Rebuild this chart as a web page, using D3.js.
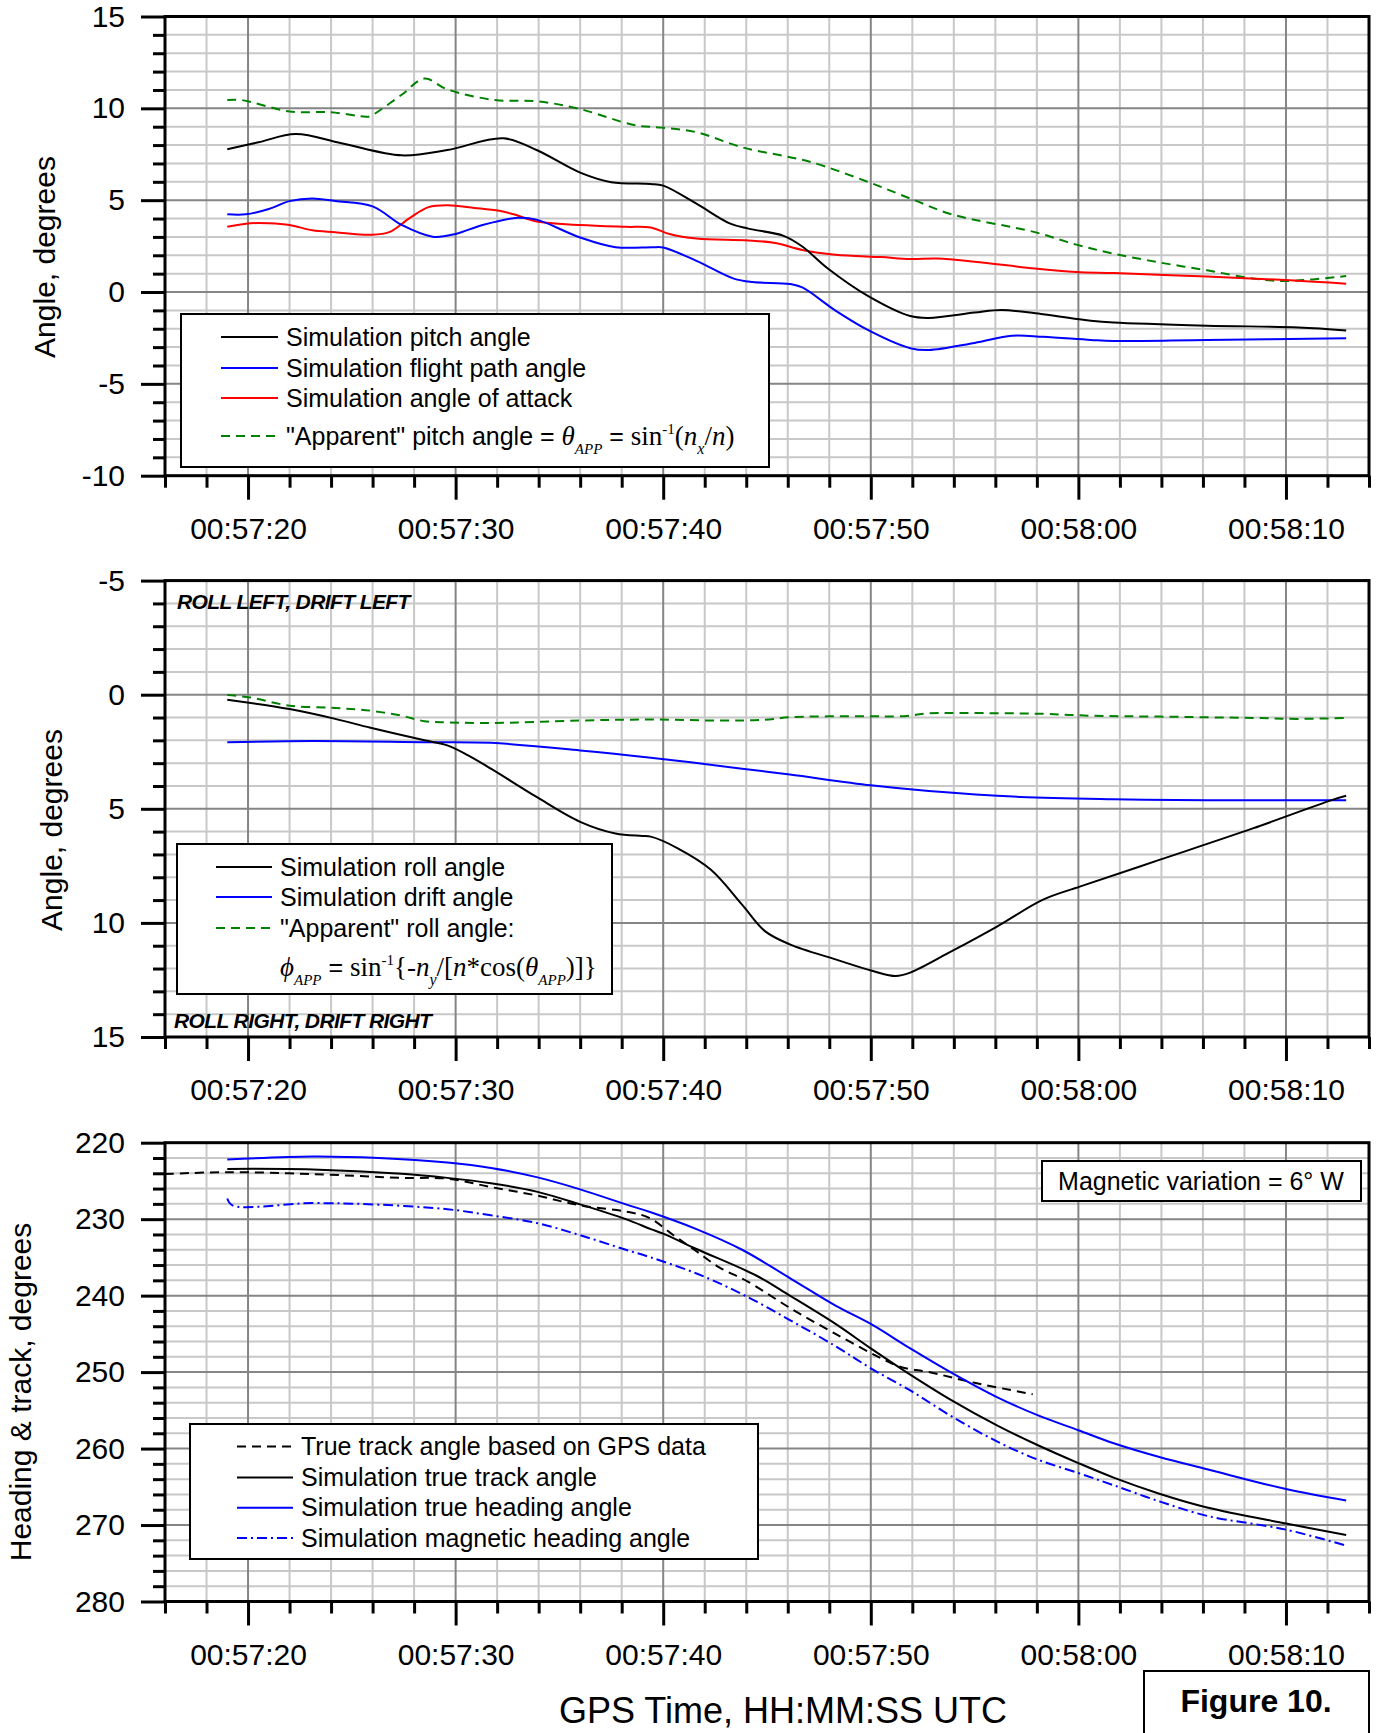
<!DOCTYPE html>
<html>
<head>
<meta charset="utf-8">
<script src="https://cdn.jsdelivr.net/npm/d3@7"></script>
<style>
  body { margin: 0; background: #fff; }
  svg text { font-family: "Liberation Sans", Arial, sans-serif; fill: #000; }
  .serif { font-family: "Liberation Serif", "Times New Roman", serif; }
</style>
</head>
<body>
<div id="figure"></div>
<script>
// time is seconds after 00:57:00 UTC
// --- panel 1: pitch ---
const pitchT = [19.0, 20.5, 22.3, 24.5, 27.4, 29.6, 32.3, 33.9, 36.0, 37.5, 39.4, 40.0, 41.6, 43.2, 44.1, 45.8, 46.7, 47.9, 49.9, 51.9, 52.8, 55.0, 56.3, 58.3, 60.6, 61.7, 66.2, 70.6, 72.9]
const pitchV = [7.77, 8.15, 8.60, 8.10, 7.44, 7.73, 8.37, 7.73, 6.50, 5.98, 5.88, 5.79, 4.81, 3.74, 3.45, 3.06, 2.48, 1.31, -0.24, -1.31, -1.41, -1.12, -0.98, -1.21, -1.56, -1.66, -1.83, -1.93, -2.09]
const fpaT = [19.0, 19.9, 21.0, 22.0, 23.1, 24.2, 26.0, 27.4, 28.9, 30.0, 31.3, 33.0, 33.9, 36.0, 37.7, 39.5, 40.0, 41.6, 43.4, 44.3, 46.1, 46.7, 48.3, 49.9, 51.9, 52.8, 55.0, 56.8, 58.3, 60.6, 61.7, 66.2, 72.9]
const fpaV = [4.23, 4.23, 4.52, 4.95, 5.09, 4.95, 4.66, 3.65, 3.01, 3.16, 3.65, 4.04, 3.94, 2.97, 2.44, 2.44, 2.42, 1.70, 0.73, 0.54, 0.44, 0.25, -1.01, -2.09, -3.06, -3.16, -2.77, -2.38, -2.44, -2.61, -2.67, -2.61, -2.52]
const aoaT = [19.0, 20.1, 21.0, 22.0, 23.1, 24.2, 25.9, 26.8, 27.8, 28.7, 29.6, 30.9, 32.1, 32.8, 33.9, 36.0, 38.2, 39.4, 40.3, 41.6, 44.1, 45.4, 46.7, 48.3, 50.5, 51.9, 53.2, 55.0, 57.9, 59.9, 61.7, 66.2, 70.2, 72.9]
const aoaV = [3.55, 3.74, 3.74, 3.65, 3.36, 3.26, 3.12, 3.26, 4.04, 4.62, 4.72, 4.58, 4.42, 4.23, 3.84, 3.65, 3.55, 3.51, 3.16, 2.91, 2.81, 2.67, 2.29, 2.03, 1.90, 1.80, 1.82, 1.65, 1.28, 1.09, 1.03, 0.84, 0.64, 0.45]
const appPitchT = [19.0, 19.7, 22.0, 24.0, 25.7, 25.9, 27.4, 28.5, 29.6, 31.9, 33.9, 36.0, 38.6, 39.9, 41.6, 43.8, 46.1, 47.2, 49.9, 52.1, 53.9, 57.9, 59.9, 61.7, 63.9, 66.2, 68.4, 70.0, 72.9]
const appPitchV = [10.45, 10.45, 9.83, 9.79, 9.54, 9.58, 10.74, 11.62, 11.03, 10.45, 10.39, 9.96, 9.09, 8.95, 8.70, 7.88, 7.34, 7.05, 5.98, 5.00, 4.23, 3.26, 2.58, 2.09, 1.61, 1.18, 0.74, 0.60, 0.87]

// --- panel 2: roll / drift ---
const rollT = [19.0, 22.0, 24.2, 25.9, 28.5, 29.6, 30.6, 31.7, 33.9, 36.0, 37.7, 39.0, 39.4, 40.7, 42.3, 43.8, 44.9, 46.1, 48.3, 50.1, 51.2, 51.9, 53.9, 56.1, 58.3, 60.1, 63.9, 68.4, 72.2, 72.9]
const rollV = [0.22, 0.63, 1.06, 1.45, 2.00, 2.22, 2.66, 3.24, 4.48, 5.57, 6.08, 6.19, 6.22, 6.73, 7.67, 9.20, 10.36, 10.94, 11.60, 12.11, 12.33, 12.18, 11.24, 10.15, 8.98, 8.40, 7.24, 5.86, 4.62, 4.43]
const driftT = [19.0, 23.1, 28.5, 31.7, 36.0, 39.4, 43.8, 46.1, 50.0, 52.8, 57.2, 61.7, 66.2, 72.9]
const driftV = [2.08, 2.03, 2.08, 2.11, 2.44, 2.76, 3.24, 3.50, 3.97, 4.22, 4.48, 4.58, 4.62, 4.62]
const appRollT = [19.0, 20.1, 22.0, 24.2, 25.9, 27.4, 28.5, 29.6, 31.7, 36.0, 39.4, 42.7, 44.9, 46.1, 49.4, 51.6, 52.8, 53.9, 58.3, 60.6, 63.9, 68.4, 70.6, 72.9]
const appRollV = [0.01, 0.12, 0.48, 0.58, 0.70, 0.92, 1.16, 1.21, 1.24, 1.13, 1.09, 1.13, 1.10, 0.99, 0.94, 0.94, 0.81, 0.80, 0.84, 0.92, 0.96, 1.02, 1.06, 1.02]

// --- panel 3: heading & track ---
const gpsTrackT = [16.0, 19.0, 23.1, 27.4, 29.6, 31.7, 33.9, 36.0, 38.2, 39.3, 40.5, 41.6, 42.7, 44.1, 46.1, 48.3, 50.5, 51.4, 52.8, 55.0, 57.8]
const gpsTrackV = [224.1, 223.85, 224.1, 224.6, 224.7, 225.8, 226.9, 228.2, 229.0, 229.8, 232.1, 234.2, 236.3, 238.2, 241.6, 245.0, 248.2, 249.3, 250.0, 251.4, 252.9]
const trackT = [19.0, 23.1, 27.4, 29.6, 31.7, 33.9, 36.0, 38.2, 39.4, 40.0, 41.6, 44.5, 46.1, 48.3, 50.0, 51.6, 53.9, 56.1, 58.0, 60.0, 61.7, 63.9, 66.2, 70.0, 72.9]
const trackV = [223.43, 223.5, 224.06, 224.6, 225.3, 226.4, 228.07, 230.0, 231.3, 231.9, 233.9, 237.4, 240.0, 243.7, 246.9, 249.8, 253.7, 257.0, 259.5, 261.9, 263.8, 265.9, 267.7, 269.8, 271.3]
const headT = [19.0, 23.1, 26.3, 29.6, 31.7, 33.9, 36.0, 38.2, 39.4, 41.6, 43.8, 46.1, 48.3, 50.0, 51.9, 53.9, 56.1, 58.0, 60.0, 61.7, 63.9, 66.2, 70.0, 72.9]
const headV = [222.2, 221.8, 222.0, 222.6, 223.3, 224.5, 226.1, 228.07, 229.1, 231.3, 234.0, 237.7, 241.3, 243.7, 246.9, 250.1, 253.3, 255.6, 257.6, 259.3, 261.1, 262.7, 265.3, 266.8]
const magHeadT = [19.0, 19.25, 23.1, 26.3, 29.6, 31.7, 33.9, 36.0, 38.2, 39.4, 41.6, 43.8, 46.1, 48.3, 50.0, 51.9, 53.9, 56.1, 58.0, 60.0, 61.7, 63.9, 66.2, 70.0, 72.9]
const magHeadV = [227.3, 228.2, 227.9, 228.1, 228.7, 229.5, 230.5, 232.1, 234.0, 235.0, 237.1, 239.8, 243.2, 246.6, 249.5, 252.4, 255.8, 259.1, 261.4, 263.2, 264.8, 266.9, 268.8, 270.6, 272.7]

const timeMajorTicks = [20, 30, 40, 50, 60, 70]

const svg = d3.select("#figure").append("svg")
    .attr("width", 1377)
    .attr("height", 1733)

const x = d3.scaleLinear().domain([16, 74]).range([165, 1369])

function fmtTime(s) {
    const m = 57 + Math.floor(s / 60)
    const ss = s % 60
    return "00:" + String(m).padStart(2, "0") + ":" + String(ss).padStart(2, "0")
}
// plain hyphen for negative labels, like the original
function fmtNum(d) { return String(Math.round(d)) }

function zip(ts, vs) { return ts.map((t, i) => ({ t: t, v: vs[i] })) }

// draws one panel (grid, series, frame, ticks) and returns its y scale
function drawPanel(p) {
    const y = d3.scaleLinear().domain(p.yDomain).range([p.top, p.bottom])
    const g = svg.append("g")
    const lo = Math.min(p.yDomain[0], p.yDomain[1]), hi = Math.max(p.yDomain[0], p.yDomain[1])
    const yMinor = d3.range(lo, hi + 0.001, p.yMinorStep)
    const yMajor = d3.range(lo, hi + 0.001, p.yMajorStep)
    const xMinor = d3.range(16, 74.001, 2)

    // minor grid
    g.selectAll(".vgm").data(xMinor.filter(d => d % 10 != 0)).join("line")
        .attr("x1", d => x(d)).attr("x2", d => x(d)).attr("y1", p.top).attr("y2", p.bottom)
        .attr("stroke", "#c8c8c8").attr("stroke-width", 2)
    g.selectAll(".hgm").data(yMinor.filter(d => !yMajor.includes(d))).join("line")
        .attr("x1", x.range()[0]).attr("x2", x.range()[1]).attr("y1", d => y(d)).attr("y2", d => y(d))
        .attr("stroke", "#c8c8c8").attr("stroke-width", 2)
    // major grid
    g.selectAll(".vgM").data(timeMajorTicks).join("line")
        .attr("x1", d => x(d)).attr("x2", d => x(d)).attr("y1", p.top).attr("y2", p.bottom)
        .attr("stroke", "#858585").attr("stroke-width", 2)
    g.selectAll(".hgM").data(yMajor).join("line")
        .attr("x1", x.range()[0]).attr("x2", x.range()[1]).attr("y1", d => y(d)).attr("y2", d => y(d))
        .attr("stroke", "#858585").attr("stroke-width", 2)

    // series
    const line = d3.line().curve(d3.curveCatmullRom.alpha(0.5))
        .x(d => x(d.t)).y(d => y(d.v))
    for (let s of p.series) {
        g.append("path")
            .datum(zip(s.t, s.v))
            .attr("fill", "none")
            .attr("stroke", s.color)
            .attr("stroke-width", 2)
            .attr("stroke-dasharray", s.dash || null)
            .attr("d", line)
    }

    // frame
    g.append("rect")
        .attr("x", x.range()[0]).attr("y", p.top)
        .attr("width", x.range()[1] - x.range()[0]).attr("height", p.bottom - p.top)
        .attr("fill", "none").attr("stroke", "#000").attr("stroke-width", 3)

    // x axis: minor then major ticks
    const xAxisMinor = g.append("g").attr("transform", `translate(0,${p.bottom})`)
        .call(d3.axisBottom(x).tickValues(xMinor.filter(d => d % 10 != 0)).tickSize(12).tickFormat(""))
    const xAxisMajor = g.append("g").attr("transform", `translate(0,${p.bottom})`)
        .call(d3.axisBottom(x).tickValues(timeMajorTicks).tickSize(24).tickPadding(18).tickFormat(fmtTime))
    // y axis
    const yAxisMinor = g.append("g").attr("transform", `translate(${x.range()[0]},0)`)
        .call(d3.axisLeft(y).tickValues(yMinor.filter(d => !yMajor.includes(d))).tickSize(12).tickFormat(""))
    const yAxisMajor = g.append("g").attr("transform", `translate(${x.range()[0]},0)`)
        .call(d3.axisLeft(y).tickValues(yMajor).tickSize(24).tickPadding(16).tickFormat(fmtNum))
    for (let a of [xAxisMinor, xAxisMajor, yAxisMinor, yAxisMajor]) {
        a.select(".domain").remove()
        a.selectAll(".tick line").attr("stroke", "#000").attr("stroke-width", 3)
        a.selectAll("text").attr("font-size", 30).attr("font-family", "Liberation Sans, Arial, sans-serif").attr("fill", "#000")
    }

    // y title
    svg.append("text")
        .attr("transform", `translate(${p.titleX},${p.titleY}) rotate(-90)`)
        .attr("text-anchor", "middle")
        .attr("dominant-baseline", "central")
        .attr("font-size", 30)
        .text(p.yTitle)
    return y
}

function drawLegend(box, rows) {
    svg.append("rect")
        .attr("x", box.x0).attr("y", box.y0)
        .attr("width", box.x1 - box.x0).attr("height", box.y1 - box.y0)
        .attr("fill", "#fff").attr("stroke", "#000").attr("stroke-width", 2)
    const items = []
    for (let r of rows) {
        if (r.color) {
            svg.append("line")
                .attr("x1", box.s0).attr("x2", box.s1).attr("y1", r.y).attr("y2", r.y)
                .attr("stroke", r.color).attr("stroke-width", 2)
                .attr("stroke-dasharray", r.dash || null)
        }
        const t = svg.append("text")
            .attr("x", box.tx).attr("y", r.y).attr("dy", "0.35em")
            .attr("font-size", 25)
        if (r.label) t.text(r.label)
        items.push(t)
    }
    return items
}

// ---------------- panel 1 ----------------
drawPanel({
    top: 16.5, bottom: 475.7, yDomain: [15, -10], yMajorStep: 5, yMinorStep: 1,
    yTitle: "Angle,  degrees", titleX: 44, titleY: 257,
    series: [
        { t: appPitchT, v: appPitchV, color: "#008000", dash: "9,6" },
        { t: aoaT, v: aoaV, color: "#ff0000" },
        { t: fpaT, v: fpaV, color: "#0000ff" },
        { t: pitchT, v: pitchV, color: "#000" }
    ]
})
const leg1 = drawLegend({ x0: 181, y0: 314, x1: 769, y1: 467, s0: 221, s1: 278, tx: 286 }, [
    { y: 337, color: "#000", label: "Simulation pitch angle" },
    { y: 368, color: "#0000ff", label: "Simulation flight path angle" },
    { y: 398, color: "#ff0000", label: "Simulation angle of attack" },
    { y: 436, color: "#008000", dash: "9,6" }
])
{
    const t = leg1[3]
    t.append("tspan").text("\"Apparent\" pitch angle = ")
    t.append("tspan").attr("class", "serif").attr("font-style", "italic").attr("font-size", 27).text("θ")
    t.append("tspan").attr("class", "serif").attr("font-style", "italic").attr("font-size", 15).attr("dy", 9).text("APP")
    t.append("tspan").attr("dy", -9).text(" = ")
    t.append("tspan").attr("class", "serif").attr("font-size", 27).text("sin")
    t.append("tspan").attr("class", "serif").attr("font-size", 15).attr("dy", -11).text("-1")
    t.append("tspan").attr("class", "serif").attr("font-size", 27).attr("dy", 11).text("(")
    t.append("tspan").attr("class", "serif").attr("font-style", "italic").attr("font-size", 27).text("n")
    t.append("tspan").attr("class", "serif").attr("font-style", "italic").attr("font-size", 16).attr("dy", 9).text("x")
    t.append("tspan").attr("class", "serif").attr("font-size", 27).attr("dy", -9).text("/")
    t.append("tspan").attr("class", "serif").attr("font-style", "italic").attr("font-size", 27).text("n")
    t.append("tspan").attr("class", "serif").attr("font-size", 27).text(")")
}

// ---------------- panel 2 ----------------
drawPanel({
    top: 580.6, bottom: 1037, yDomain: [-5, 15], yMajorStep: 5, yMinorStep: 1,
    yTitle: "Angle,  degrees", titleX: 51, titleY: 830,
    series: [
        { t: appRollT, v: appRollV, color: "#008000", dash: "9,6" },
        { t: driftT, v: driftV, color: "#0000ff" },
        { t: rollT, v: rollV, color: "#000" }
    ]
})
svg.append("text").attr("x", 177).attr("y", 601.5).attr("dy", "0.35em")
    .attr("font-size", 21).attr("font-weight", "bold").attr("font-style", "italic")
    .attr("letter-spacing", -0.6)
    .text("ROLL LEFT, DRIFT LEFT")
svg.append("text").attr("x", 174).attr("y", 1021).attr("dy", "0.35em")
    .attr("font-size", 21).attr("font-weight", "bold").attr("font-style", "italic")
    .attr("letter-spacing", -0.6)
    .text("ROLL RIGHT, DRIFT RIGHT")
const leg2 = drawLegend({ x0: 177, y0: 844, x1: 612, y1: 994, s0: 216, s1: 272, tx: 280 }, [
    { y: 867, color: "#000", label: "Simulation roll angle" },
    { y: 897, color: "#0000ff", label: "Simulation drift angle" },
    { y: 928, color: "#008000", dash: "9,6", label: "\"Apparent\" roll angle:" },
    { y: 967 }
])
{
    const t = leg2[3]
    t.append("tspan").attr("class", "serif").attr("font-style", "italic").attr("font-size", 27).text("ϕ")
    t.append("tspan").attr("class", "serif").attr("font-style", "italic").attr("font-size", 15).attr("dy", 9).text("APP")
    t.append("tspan").attr("dy", -9).text(" = ")
    t.append("tspan").attr("class", "serif").attr("font-size", 27).text("sin")
    t.append("tspan").attr("class", "serif").attr("font-size", 15).attr("dy", -11).text("-1")
    t.append("tspan").attr("class", "serif").attr("font-size", 27).attr("dy", 11).text("{-")
    t.append("tspan").attr("class", "serif").attr("font-style", "italic").attr("font-size", 27).text("n")
    t.append("tspan").attr("class", "serif").attr("font-style", "italic").attr("font-size", 16).attr("dy", 9).text("y")
    t.append("tspan").attr("class", "serif").attr("font-size", 27).attr("dy", -9).text("/[")
    t.append("tspan").attr("class", "serif").attr("font-style", "italic").attr("font-size", 27).text("n")
    t.append("tspan").attr("class", "serif").attr("font-size", 27).text("*cos(")
    t.append("tspan").attr("class", "serif").attr("font-style", "italic").attr("font-size", 27).text("θ")
    t.append("tspan").attr("class", "serif").attr("font-style", "italic").attr("font-size", 15).attr("dy", 9).text("APP")
    t.append("tspan").attr("class", "serif").attr("font-size", 27).attr("dy", -9).text(")]}")
}

// ---------------- panel 3 ----------------
drawPanel({
    top: 1142.7, bottom: 1601.5, yDomain: [220, 280], yMajorStep: 10, yMinorStep: 2,
    yTitle: "Heading & track, degrees", titleX: 20, titleY: 1392,
    series: [
        { t: gpsTrackT, v: gpsTrackV, color: "#000", dash: "9,6" },
        { t: magHeadT, v: magHeadV, color: "#0000ff", dash: "10,4,2,4" },
        { t: headT, v: headV, color: "#0000ff" },
        { t: trackT, v: trackV, color: "#000" }
    ]
})
drawLegend({ x0: 190, y0: 1424, x1: 758, y1: 1559, s0: 237, s1: 293, tx: 301 }, [
    { y: 1446.5, color: "#000", dash: "9,6", label: "True track angle based on GPS data" },
    { y: 1477.5, color: "#000", label: "Simulation true track angle" },
    { y: 1507.7, color: "#0000ff", label: "Simulation true heading angle" },
    { y: 1538, color: "#0000ff", dash: "10,4,2,4", label: "Simulation magnetic heading angle" }
])

// magnetic variation note
svg.append("rect").attr("x", 1042).attr("y", 1161).attr("width", 319).attr("height", 40)
    .attr("fill", "#fff").attr("stroke", "#000").attr("stroke-width", 2)
svg.append("text").attr("x", 1201).attr("y", 1181).attr("dy", "0.35em")
    .attr("text-anchor", "middle").attr("font-size", 25)
    .text("Magnetic variation = 6° W")

// x axis title
svg.append("text").attr("x", 783).attr("y", 1710).attr("dy", "0.35em")
    .attr("text-anchor", "middle").attr("font-size", 36)
    .text("GPS Time, HH:MM:SS UTC")

// figure label
svg.append("rect").attr("x", 1144).attr("y", 1671).attr("width", 225).attr("height", 70)
    .attr("fill", "#fff").attr("stroke", "#000").attr("stroke-width", 2)
svg.append("text").attr("x", 1256).attr("y", 1701).attr("dy", "0.35em")
    .attr("text-anchor", "middle").attr("font-size", 32).attr("font-weight", "bold")
    .text("Figure 10.")
</script>
</body>
</html>
